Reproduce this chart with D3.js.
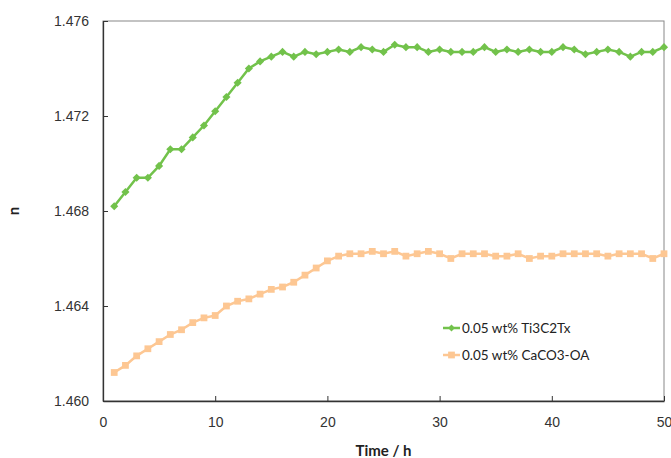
<!DOCTYPE html>
<html>
<head>
<meta charset="utf-8">
<script src="https://cdn.jsdelivr.net/npm/d3@7"></script>
<style>
  body { margin: 0; background: #fff; }
  svg { font-family: Lato, "Open Sans", sans-serif; }
</style>
</head>
<body>
<div id="container"></div>
<script>
const w = 671;
const h = 458;
const margin = { top: 21, right: 7, bottom: 57, left: 103 };

const hours = d3.range(1, 51);
const ti3c2tx = [
  1.4682, 1.4688, 1.4694, 1.4694, 1.4699, 1.4706, 1.4706, 1.4711, 1.4716, 1.4722,
  1.4728, 1.4734, 1.4740, 1.4743, 1.4745, 1.4747, 1.4745, 1.4747, 1.4746, 1.4747,
  1.4748, 1.4747, 1.4749, 1.4748, 1.4747, 1.4750, 1.4749, 1.4749, 1.4747, 1.4748,
  1.4747, 1.4747, 1.4747, 1.4749, 1.4747, 1.4748, 1.4747, 1.4748, 1.4747, 1.4747,
  1.4749, 1.4748, 1.4746, 1.4747, 1.4748, 1.4747, 1.4745, 1.4747, 1.4747, 1.4749
];
const caco3 = [
  1.4612, 1.4615, 1.4619, 1.4622, 1.4625, 1.4628, 1.4630, 1.4633, 1.4635, 1.4636,
  1.4640, 1.4642, 1.4643, 1.4645, 1.4647, 1.4648, 1.4650, 1.4653, 1.4656, 1.4659,
  1.4661, 1.4662, 1.4662, 1.4663, 1.4662, 1.4663, 1.4661, 1.4662, 1.4663, 1.4662,
  1.4660, 1.4662, 1.4662, 1.4662, 1.4661, 1.4661, 1.4662, 1.4660, 1.4661, 1.4661,
  1.4662, 1.4662, 1.4662, 1.4662, 1.4661, 1.4662, 1.4662, 1.4662, 1.4660, 1.4662
];
const xTicks = [0, 10, 20, 30, 40, 50];
const yTicks = [1.460, 1.464, 1.468, 1.472, 1.476];
const seriesNames = ["0.05 wt% Ti3C2Tx", "0.05 wt% CaCO3-OA"];

const green = "#72c24b";
const orange = "#fdc793";

const svg = d3.select("#container")
  .append("svg")
  .attr("width", w)
  .attr("height", h);

const x = d3.scaleLinear().domain([0, 50]).range([margin.left, w - margin.right]);
const y = d3.scaleLinear().domain([1.460, 1.476]).range([h - margin.bottom, margin.top]);

// plot frame
svg.append("rect")
  .attr("x", x(0))
  .attr("y", y(1.476))
  .attr("width", x(50) - x(0))
  .attr("height", y(1.460) - y(1.476))
  .attr("fill", "none")
  .attr("stroke", "#888")
  .attr("stroke-width", 1);

const xAxis = svg.append("g")
  .attr("transform", `translate(0, ${y(1.460)})`)
  .call(d3.axisBottom(x).tickValues(xTicks).tickSizeInner(-5).tickSizeOuter(0).tickPadding(16));
const yAxis = svg.append("g")
  .attr("transform", `translate(${x(0)}, 0)`)
  .call(d3.axisLeft(y).tickValues(yTicks).tickSizeInner(-5).tickSizeOuter(0).tickPadding(14).tickFormat(d3.format(".3f")));

[xAxis, yAxis].forEach(g => {
  g.select(".domain").attr("stroke", "#333").attr("stroke-width", 1.3);
  g.selectAll(".tick line").attr("stroke", "#333");
  g.selectAll(".tick text").attr("fill", "#333").style("font-size", "14px");
});

const line = d3.line().x((d, i) => x(hours[i])).y(d => y(d));
const diamond = d3.symbol().type(d3.symbolDiamond2).size(42);
const square = d3.symbol().type(d3.symbolSquare).size(46);

function drawSeries(values, color, sym) {
  svg.append("path")
    .datum(values)
    .attr("fill", "none")
    .attr("stroke", color)
    .attr("stroke-width", 2.5)
    .attr("d", line);
  svg.append("g")
    .selectAll("path")
    .data(values)
    .join("path")
    .attr("transform", (d, i) => `translate(${x(hours[i])}, ${y(d)})`)
    .attr("d", sym)
    .attr("fill", color);
}

drawSeries(caco3, orange, square);
drawSeries(ti3c2tx, green, diamond);

// axis titles
svg.append("text")
  .attr("x", (x(0) + x(50)) / 2)
  .attr("y", 456)
  .attr("text-anchor", "middle")
  .style("font-size", "15px")
  .style("font-weight", "bold")
  .attr("fill", "#222")
  .text("Time / h");
svg.append("text")
  .attr("transform", `translate(19, ${(y(1.460) + y(1.476)) / 2}) rotate(-90)`)
  .attr("text-anchor", "middle")
  .style("font-size", "15px")
  .style("font-weight", "bold")
  .attr("fill", "#222")
  .text("n");

// legend
const legend = svg.append("g").attr("transform", "translate(443, 328)");
[[green, diamond], [orange, square]].forEach(([color, sym], i) => {
  const row = legend.append("g").attr("transform", `translate(0, ${i * 27})`);
  row.append("line")
    .attr("x1", 0).attr("x2", 17)
    .attr("stroke", color).attr("stroke-width", 2.5);
  row.append("path")
    .attr("transform", "translate(8.5, 0)")
    .attr("d", i === 0 ? d3.symbol().type(d3.symbolDiamond2).size(30) : d3.symbol().type(d3.symbolSquare).size(46))
    .attr("fill", color);
  row.append("text")
    .attr("x", 19)
    .attr("dy", "0.35em")
    .style("font-size", "13.5px")
    .attr("fill", "#222")
    .text(seriesNames[i]);
});
</script>
</body>
</html>
